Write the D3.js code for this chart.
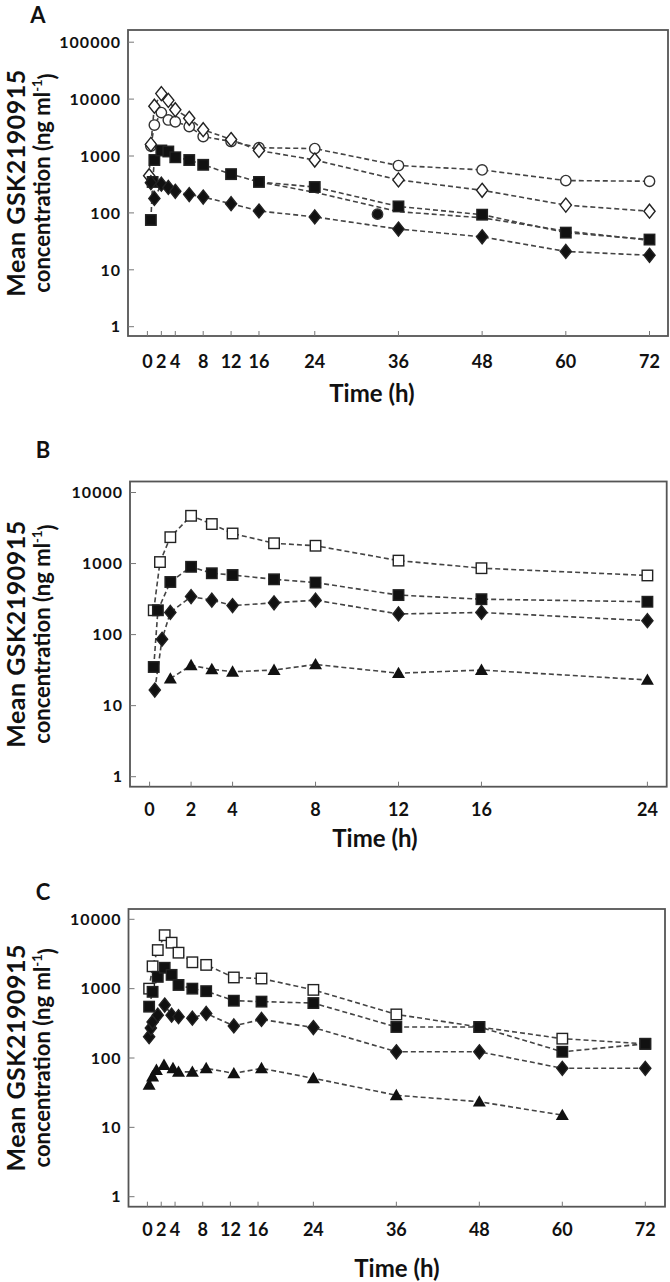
<!DOCTYPE html>
<html><head><meta charset="utf-8">
<script src="https://cdn.jsdelivr.net/npm/d3@7"></script>
<style>
body{margin:0;background:#fff;}
svg text{font-family:Lato,"Open Sans",sans-serif;font-weight:700;fill:#111;}
</style></head>
<body><svg id="c" width="670" height="1282"></svg>
<script>
// ---------- DATA ----------
// Panel A (0-72 h, log 1-100000)
const A_circleT = [0.5, 1, 2, 3, 4, 6, 8, 12, 16, 24, 36, 48, 60, 72];
const A_circleV = [1500, 3500, 5800, 4300, 4000, 3300, 2200, 1800, 1400, 1350, 680, 570, 370, 360];
const A_odiamT = [0.25, 0.5, 1, 2, 3, 4, 6, 8, 12, 16, 24, 36, 48, 60, 72];
const A_odiamV = [450, 1600, 7500, 12500, 9500, 6500, 4600, 2900, 1950, 1250, 850, 380, 250, 137, 107];
const A_squareT = [0.5, 0.75, 1, 2, 3, 4, 6, 8, 12, 16, 24, 36, 48, 60, 72];
const A_squareV = [75, 350, 850, 1250, 1200, 950, 850, 700, 480, 350, 285, 130, 93, 45, 34];
const A_fdiamT = [0.5, 1, 2, 3, 4, 6, 8, 12, 16, 24, 36, 48, 60, 72];
const A_fdiamV = [340, 180, 320, 280, 240, 210, 190, 145, 108, 85, 52, 38, 21, 18];
const A_fcircT = [33];
const A_fcircV = [95];
const A_otherT = [16, 24, 36, 48, 60, 72];
const A_otherV = [350, 230, 105, 82, 48, 33];
// Panel B (0-24 h, log 1-10000)
const B_osquareT = [0.2, 0.5, 1, 2, 3, 4, 6, 8, 12, 16, 24];
const B_osquareV = [220, 1050, 2350, 4700, 3600, 2650, 1930, 1780, 1100, 860, 680];
const B_fsquareT = [0.2, 0.4, 1, 2, 3, 4, 6, 8, 12, 16, 24];
const B_fsquareV = [35, 220, 550, 900, 730, 690, 600, 540, 360, 315, 290];
const B_fdiamT = [0.25, 0.6, 1, 2, 3, 4, 6, 8, 12, 16, 24];
const B_fdiamV = [16.6, 86, 205, 343, 305, 256, 280, 305, 195, 205, 157];
const B_triT = [1, 2, 3, 4, 6, 8, 12, 16, 24];
const B_triV = [24, 37, 32.5, 30, 31.7, 38, 28.6, 31.7, 23];
// Panel C (0-72 h, log 1-10000)
const C_osquareT = [0.25, 0.75, 1.5, 2.5, 3.5, 4.5, 6.5, 8.5, 12.5, 16.5, 24, 36, 48, 60, 72];
const C_osquareV = [1000, 2100, 3600, 5900, 4600, 3300, 2400, 2200, 1450, 1400, 960, 425, 280, 190, 160];
const C_fsquareT = [0.25, 0.75, 1.5, 2.5, 3.5, 4.5, 6.5, 8.5, 12.5, 16.5, 24, 36, 48, 60, 72];
const C_fsquareV = [550, 900, 1480, 2000, 1580, 1130, 1000, 920, 670, 650, 620, 280, 280, 123, 160];
const C_fdiamT = [0.25, 0.5, 0.75, 1.5, 2.5, 3.5, 4.5, 6.5, 8.5, 12.5, 16.5, 24, 36, 48, 60, 72];
const C_fdiamV = [203, 270, 330, 415, 580, 415, 395, 375, 440, 290, 360, 275, 123, 123, 71, 71];
const C_triT = [0.25, 0.75, 1.3, 2.4, 3.7, 4.5, 6.5, 8.5, 12.5, 16.5, 24, 36, 48, 60];
const C_triV = [41, 54, 67, 79, 71, 63, 63, 71, 60, 71, 51, 29, 23.4, 15];

const xTicks72 = [0, 2, 4, 8, 12, 16, 24, 36, 48, 60, 72];
const xTicks24 = [0, 2, 4, 8, 12, 16, 24];
const yTicks5 = [1, 10, 100, 1000, 10000, 100000];
const yTicks4 = [1, 10, 100, 1000, 10000];
const panelLabels = ["A", "B", "C"];
const yTitle1 = "Mean GSK2190915";
const yTitle2 = "concentration (ng ml";
const xTitle = "Time (h)";

// ---------- DRAW ----------
const svg = d3.select("#c");

function zip(T, V) { return T.map((t, i) => ({t: t, v: V[i]})); }

function marker(g, shape, x, y) {
  const s = 10.5;
  if (shape === "square" || shape === "osquare") {
    g.append("rect").attr("x", x - s/2).attr("y", y - s/2).attr("width", s).attr("height", s)
      .attr("fill", shape === "square" ? "#111" : "#fff").attr("stroke", "#222").attr("stroke-width", 1.4);
  } else if (shape === "fdiam" || shape === "odiam") {
    const r = 7;
    g.append("path").attr("d", `M${x},${y-r}L${x+r*0.8},${y}L${x},${y+r}L${x-r*0.8},${y}Z`)
      .attr("fill", shape === "fdiam" ? "#111" : "#fff").attr("stroke", "#222").attr("stroke-width", 1.4);
  } else if (shape === "circle" || shape === "fcirc") {
    g.append("circle").attr("cx", x).attr("cy", y).attr("r", 5.2)
      .attr("fill", shape === "fcirc" ? "#111" : "#fff").attr("stroke", "#333").attr("stroke-width", 1.4);
  } else if (shape === "tri") {
    const r = 6.5;
    g.append("path").attr("d", `M${x},${y-r}L${x+r},${y+r*0.75}L${x-r},${y+r*0.75}Z`).attr("fill", "#111");
  }
}

function panel(cfg) {
  const g = svg.append("g");
  const x = d3.scaleLinear().domain(cfg.xDom).range(cfg.xRange);
  const y = d3.scaleLog().domain(cfg.yDom).range(cfg.yRange);
  const f = cfg.frame;
  g.append("rect").attr("x", f[0]).attr("y", f[2]).attr("width", f[1]-f[0]).attr("height", f[3]-f[2])
    .attr("fill", "none").attr("stroke", "#555").attr("stroke-width", 1.8);
  cfg.yTicks.forEach(v => {
    g.append("line").attr("x1", f[0]).attr("x2", f[0]+6).attr("y1", y(v)).attr("y2", y(v)).attr("stroke", "#777").attr("stroke-width", 1);
    g.append("text").attr("x", f[0]-7).attr("y", y(v)).attr("dy", "0.36em").attr("text-anchor", "end")
      .attr("font-size", 16).attr("letter-spacing", 1).text(d3.format("d")(v));
  });
  cfg.xTicks.forEach(t => {
    g.append("line").attr("x1", x(t)).attr("x2", x(t)).attr("y1", f[3]).attr("y2", f[3]-5).attr("stroke", "#777").attr("stroke-width", 1);
    g.append("text").attr("x", x(t)).attr("y", cfg.xLabY).attr("dy", "0.36em").attr("text-anchor", "middle")
      .attr("font-size", 18).text(t);
  });
  g.append("text").attr("x", cfg.xTitleX).attr("y", cfg.xTitleY).attr("dy", "0.36em").attr("text-anchor", "middle")
    .attr("font-size", 24).text(xTitle);
  const cy = (f[2]+f[3])/2;
  g.append("text").attr("transform", `translate(${cfg.yt1},${cy}) rotate(-90)`).attr("text-anchor", "middle")
    .attr("dy", "0.36em").attr("font-size", 25).attr("letter-spacing", 0.5).text(yTitle1);
  const t2 = g.append("text").attr("transform", `translate(${cfg.yt2},${cy}) rotate(-90)`).attr("text-anchor", "middle")
    .attr("dy", "0.36em").attr("font-size", 22).attr("font-weight", 600);
  t2.append("tspan").text(yTitle2);
  t2.append("tspan").attr("font-size", 13).attr("dy", "-0.6em").text("-1");
  t2.append("tspan").attr("dy", "0.6em").text(")");
  g.append("text").attr("x", cfg.lab[0]).attr("y", cfg.lab[1]).attr("dy", "0.36em").attr("text-anchor", "middle")
    .attr("font-size", 22).text(cfg.label);
  const line = d3.line().x(d => x(d.t)).y(d => y(d.v));
  cfg.series.forEach(s => {
    g.append("path").datum(s.data).attr("d", line).attr("fill", "none")
      .attr("stroke", "#444").attr("stroke-width", 1.6).attr("stroke-dasharray", s.solid ? null : "5,3");
  });
  cfg.series.forEach(s => {
    if (!s.shape) return;
    s.data.forEach(d => marker(g, s.shape, x(d.t), y(d.v)));
  });
}

panel({
  label: panelLabels[0], lab: [38, 15],
  frame: [128, 668, 30, 336],
  xDom: [0, 72], xRange: [147.4, 649.5],
  yDom: [1, 100000], yRange: [326.7, 42.2],
  xTicks: xTicks72, yTicks: yTicks5,
  xLabY: 362, xTitleX: 372, xTitleY: 393,
  yt1: 16, yt2: 42,
  series: [
    {data: zip(A_otherT, A_otherV), shape: null},
    {data: zip(A_circleT, A_circleV), shape: "circle"},
    {data: zip(A_odiamT, A_odiamV), shape: "odiam"},
    {data: zip(A_squareT, A_squareV), shape: "square"},
    {data: zip(A_fdiamT, A_fdiamV), shape: "fdiam"},
    {data: zip(A_fcircT, A_fcircV), shape: "fcirc"}
  ]
});
panel({
  label: panelLabels[1], lab: [43, 450],
  frame: [130, 666.7, 481.5, 786.7],
  xDom: [0, 24], xRange: [149.6, 647.4],
  yDom: [1, 10000], yRange: [776.7, 492.5],
  xTicks: xTicks24, yTicks: yTicks4,
  xLabY: 810, xTitleX: 375, xTitleY: 838,
  yt1: 16, yt2: 42,
  series: [
    {data: zip(B_osquareT, B_osquareV), shape: "osquare"},
    {data: zip(B_fsquareT, B_fsquareV), shape: "square"},
    {data: zip(B_fdiamT, B_fdiamV), shape: "fdiam"},
    {data: zip(B_triT, B_triV), shape: "tri"}
  ]
});
panel({
  label: panelLabels[2], lab: [43, 892],
  frame: [128.5, 665, 909, 1206.7],
  xDom: [0, 72], xRange: [147.4, 645.3],
  yDom: [1, 10000], yRange: [1196.7, 919.3],
  xTicks: xTicks72, yTicks: yTicks4,
  xLabY: 1230, xTitleX: 397, xTitleY: 1268,
  yt1: 16, yt2: 42,
  series: [
    {data: zip(C_osquareT, C_osquareV), shape: "osquare"},
    {data: zip(C_fsquareT, C_fsquareV), shape: "square"},
    {data: zip(C_fdiamT, C_fdiamV), shape: "fdiam"},
    {data: zip(C_triT, C_triV), shape: "tri"}
  ]
});
</script></body></html>
